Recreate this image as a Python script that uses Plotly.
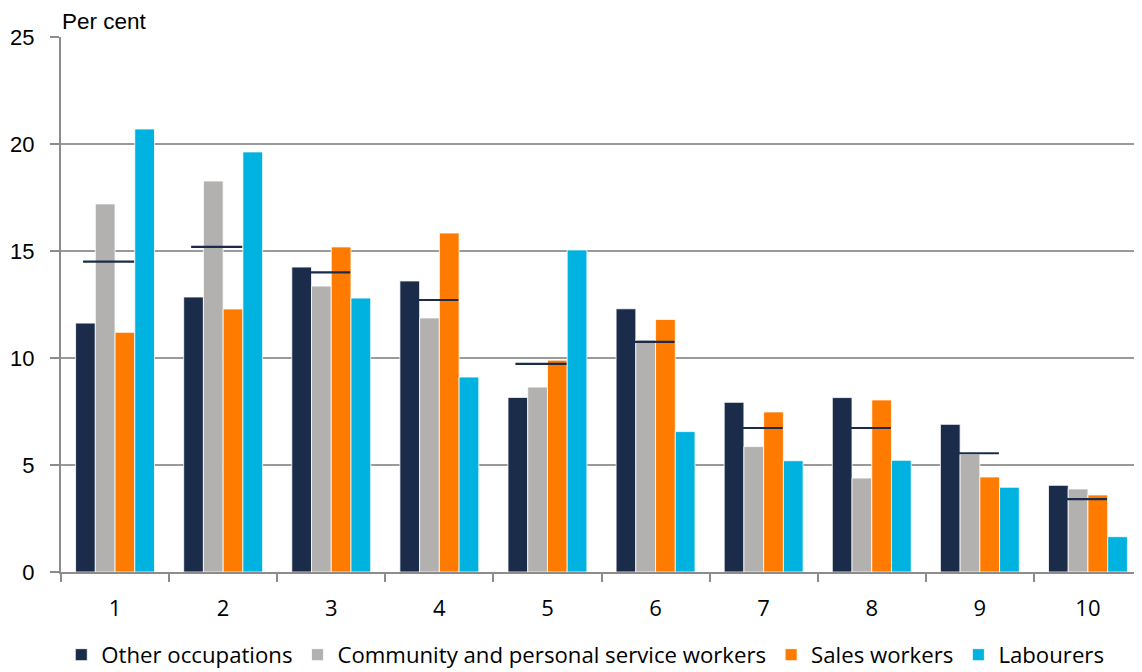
import plotly.graph_objects as go

categories = ["1", "2", "3", "4", "5", "6", "7", "8", "9", "10"]
other_occupations = [11.63, 12.85, 14.25, 13.6, 8.16, 12.3, 7.93, 8.15, 6.9, 4.05]
community_workers = [17.2, 18.27, 13.36, 11.87, 8.64, 10.84, 5.86, 4.39, 5.51, 3.88]
sales_workers = [11.2, 12.29, 15.19, 15.84, 9.9, 11.8, 7.48, 8.04, 4.44, 3.6]
labourers = [20.7, 19.63, 12.8, 9.11, 15.05, 6.56, 5.2, 5.22, 3.96, 1.65]
all_occupations = [14.5, 15.19, 14.0, 12.71, 9.73, 10.75, 6.73, 6.73, 5.55, 3.41]

series = [
    ("Other occupations", other_occupations, "#1B2C4A"),
    ("Community and personal service workers", community_workers, "#B2B1AF"),
    ("Sales workers", sales_workers, "#FF7B00"),
    ("Labourers", labourers, "#00B2E0"),
]

fig = go.Figure()
for name, vals, color in series:
    fig.add_trace(go.Bar(
        x=categories, y=vals, name=name,
        marker=dict(color=color, line=dict(color="white", width=0.8)),
    ))

# average markers sit slightly left of each group's centre, as in the source
fig.add_trace(go.Scatter(
    x=categories, y=all_occupations, mode="markers", showlegend=False,
    name="All occupations", xaxis="x2",
    marker=dict(symbol="line-ew", size=36.5, color="#1B2C4A",
                line=dict(color="#1B2C4A", width=2.2)),
))

marker_shift = 0.06
# page body has an 8px margin, so the figure is sized to fit the 1142x672 window
fig.update_layout(
    width=1134, height=664,
    margin=dict(l=53, r=0, t=29, b=100),
    paper_bgcolor="white", plot_bgcolor="white",
    barmode="group", bargap=0.27, bargroupgap=0,
    font=dict(family="Liberation Sans, Arial", color="#000000"),
    legend=dict(orientation="h", x=0.485, xanchor="center",
                yref="container", y=0.026, yanchor="middle",
                font=dict(family="Open Sans", size=22.2), itemwidth=30,
                tracegroupgap=0),
    xaxis2=dict(type="category", overlaying="x", visible=False,
                range=[-0.5 + marker_shift, len(categories) - 0.5 + marker_shift]),
    annotations=[dict(text="Per cent", xref="paper", yref="paper", x=0, y=1.0,
                      xanchor="left", yanchor="bottom", yshift=1, xshift=-1,
                      showarrow=False,
                      font=dict(family="Liberation Sans, Arial", size=22.5))],
)

fig.update_xaxes(
    selector=dict(anchor="y"),
)
fig.update_layout(xaxis=dict(
    type="category", range=[-0.5, len(categories) - 0.5],
    tickson="boundaries", ticks="outside", ticklen=8,
    tickcolor="#8C8C8C", tickwidth=2, showline=True, linecolor="#8C8C8C",
    linewidth=2, showgrid=False, automargin=False,
    tickfont=dict(family="Open Sans", size=22), ticklabelstandoff=16,
))
fig.update_yaxes(
    range=[0, 25], dtick=5, ticks="outside", ticklen=9, tickcolor="#8C8C8C",
    tickwidth=2, showline=True, linecolor="#8C8C8C", linewidth=2,
    showgrid=True, gridcolor="#9A9A9A", gridwidth=1.5, zeroline=False,
    automargin=False, ticklabelstandoff=11,
    tickfont=dict(family="Liberation Sans, Arial", size=22),
)

fig.write_html("out.html")
